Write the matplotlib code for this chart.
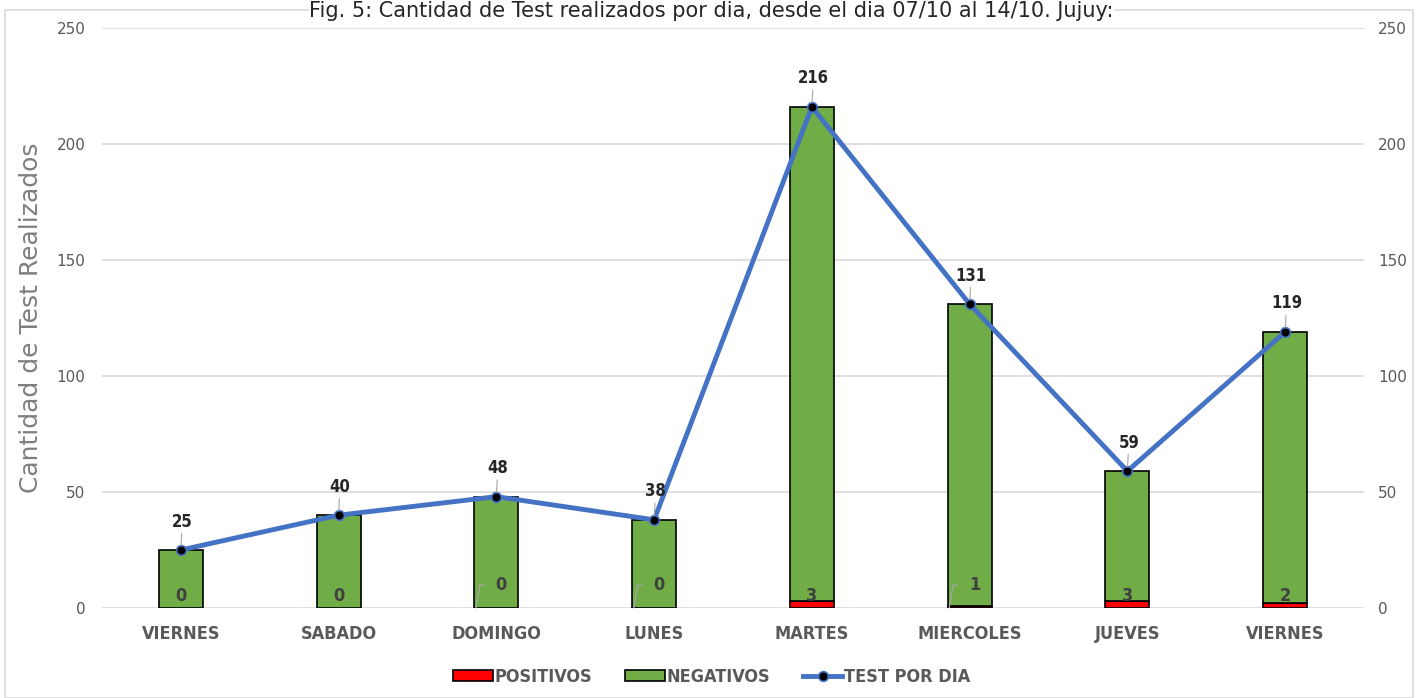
import matplotlib.pyplot as plt
from matplotlib.patches import Rectangle
from matplotlib.font_manager import FontProperties

dias = ["VIERNES", "SABADO", "DOMINGO", "LUNES", "MARTES", "MIERCOLES", "JUEVES", "VIERNES"]
positivos = [0, 0, 0, 0, 3, 1, 3, 2]
test_por_dia = [25, 40, 48, 38, 216, 131, 59, 119]
negativos = [t - p for t, p in zip(test_por_dia, positivos)]


def cond(size):
    return FontProperties(family="DejaVu Sans", stretch="condensed", weight="bold", size=size)


gris = "#595959"
fig = plt.figure(figsize=(14.23, 6.98), dpi=100)
fig.patches.append(Rectangle((5 / 1423, 0), 1408 / 1423, 688 / 698, transform=fig.transFigure,
                             fill=False, edgecolor="#d9d9d9", lw=1.2))
ax = fig.add_axes([102 / 1423, 90 / 698, 1262 / 1423, 580 / 698])
x = list(range(len(dias)))

b1 = ax.bar(x, positivos, width=0.28, color="#ff0000", edgecolor="black", lw=1.2, label="POSITIVOS", zorder=2)
b2 = ax.bar(x, negativos, width=0.28, bottom=positivos, color="#70ad47", edgecolor="black", lw=1.2,
            label="NEGATIVOS", zorder=2)
ln, = ax.plot(x, test_por_dia, color="#4472c4", lw=3.5, marker="o", markersize=7,
              markerfacecolor="black", markeredgecolor="#4472c4", markeredgewidth=1.2,
              label="TEST POR DIA", zorder=3)

ax.set_xlim(-0.5, len(dias) - 0.5)
ax.set_ylim(0, 250)
ax.set_yticks(range(0, 251, 50))
ax.grid(axis="y", color="#d9d9d9", lw=1.2, zorder=0)
for s in ax.spines.values():
    s.set_visible(False)
ax.tick_params(axis="y", length=0, labelsize=11, labelcolor=gris, pad=12)
ax.tick_params(axis="x", length=0, pad=12)
ax.set_xticks(x)
ax.set_xticklabels(dias, color=gris)
for t in ax.get_xticklabels():
    t.set_fontproperties(cond(13))
ax.set_ylabel("Cantidad de Test Realizados", fontsize=18, color="#7f7f7f", labelpad=10)

ax2 = ax.twinx()
ax2.set_ylim(0, 250)
ax2.set_yticks(range(0, 251, 50))
for s in ax2.spines.values():
    s.set_visible(False)
ax2.tick_params(axis="y", length=0, labelsize=11, labelcolor=gris, pad=10)

# etiquetas de totales
for i, t in enumerate(test_por_dia):
    ax.annotate(str(t), (i, t), xytext=(1, 14), textcoords="offset points", ha="center", va="bottom",
                fontproperties=cond(12), color="#262626",
                arrowprops=dict(arrowstyle="-", color="#a6a6a6", lw=0.8, shrinkA=0, shrinkB=3))

# etiquetas de positivos
for i, p in enumerate(positivos):
    if dias[i] in ("DOMINGO", "LUNES", "MIERCOLES"):
        ax.annotate(str(p), (i - 0.13, 0), xytext=(i + 0.03, 10), textcoords=("data", "offset points"),
                    ha="center", va="bottom", fontproperties=cond(13), color="#404040",
                    arrowprops=dict(arrowstyle="-", color="#a6a6a6", lw=0.9, shrinkA=6, shrinkB=0,
                                    connectionstyle="angle,angleA=0,angleB=80"))
    else:
        ax.annotate(str(p), (i, 0), xytext=(0, 2), textcoords="offset points", ha="center", va="bottom",
                    fontproperties=cond(13), color="#404040")

fig.legend([b1, b2, ln], ["POSITIVOS", "NEGATIVOS", "TEST POR DIA"], loc="center",
           bbox_to_anchor=(712 / 1423, 21 / 698), ncol=3, frameon=False,
           prop=cond(13), labelcolor=gris, handlelength=2.2, handleheight=0.6,
           handletextpad=0.1, columnspacing=1.8)

fig.text(0.5, 0.999, "Fig. 5: Cantidad de Test realizados por dia, desde el dia 07/10 al 14/10. Jujuy:",
         ha="center", va="top", fontsize=15, color="#262626",
         bbox=dict(facecolor="white", edgecolor="none", pad=0))

fig.savefig("out.png", dpi=100)
